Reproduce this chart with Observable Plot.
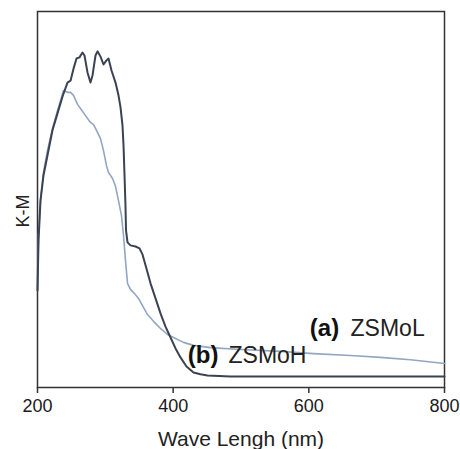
<!DOCTYPE html>
<html>
<head>
<meta charset="utf-8">
<script src="https://cdn.jsdelivr.net/npm/d3@7"></script>
<script src="https://cdn.jsdelivr.net/npm/@observablehq/plot@0.6"></script>
<style>
  html, body { margin: 0; padding: 0; background: #fff; }
  #chart { width: 460px; height: 449px; }
</style>
</head>
<body>
<div id="chart"></div>
<script>
// Wavelength (nm) and K-M values (arbitrary units, 0-100)
const zsmohWave = [200, 201.5, 204.4, 208.8, 214.7, 222.1, 229.5, 236.9, 244.2, 248.7, 253.1, 257.5, 261.9, 266.3, 269.3, 273.7, 278.1, 281.1, 285.5, 288.5, 292.9, 297.3, 301.7, 304.7, 309.1, 315.0, 319.4, 322.4, 325.3, 326.8, 328.3, 329.7, 330.5, 332.7, 337.1, 344.5, 350.4, 354.8, 360.7, 366.6, 374.0, 381.3, 388.7, 396.1, 403.5, 410.8, 419.7, 430.0, 440.3, 450.6, 484.5, 543.5, 617.2, 705.7, 800];
const zsmohKM   = [25.8, 39.1, 49.7, 56.4, 61.7, 68.4, 72.9, 77.4, 81.1, 81.6, 84.8, 87.5, 87.8, 89.1, 88.3, 83.8, 81.1, 83.0, 88.3, 89.4, 88.0, 85.9, 87.0, 87.5, 84.3, 81.1, 77.7, 74.5, 69.7, 64.4, 56.4, 48.4, 41.8, 38.6, 37.8, 37.5, 37.0, 35.4, 31.6, 27.7, 23.7, 19.7, 16.2, 13.3, 10.4, 8.0, 5.6, 4.0, 3.5, 3.2, 2.9, 2.9, 2.9, 2.9, 2.9];

const zsmolWave = [200, 201.5, 204.4, 208.8, 214.7, 222.1, 229.5, 233.9, 238.3, 244.2, 248.7, 253.1, 259.0, 263.4, 270.8, 278.1, 282.6, 287.0, 292.9, 297.3, 301.7, 304.7, 310.6, 315.0, 319.4, 323.8, 326.8, 329.7, 332.7, 337.1, 343.0, 348.9, 354.8, 362.2, 371.0, 381.3, 391.7, 400.5, 415.2, 430.0, 455.1, 499.3, 558.3, 606.9, 661.5, 705.7, 749.9, 800];
const zsmolKM   = [25.8, 40.4, 49.7, 57.2, 63.0, 68.9, 73.7, 76.3, 79.0, 78.5, 78.5, 77.7, 75.3, 74.2, 72.3, 70.5, 69.9, 68.4, 66.2, 63.0, 59.0, 57.2, 55.6, 53.5, 49.7, 45.7, 40.4, 33.8, 27.7, 26.1, 25.0, 23.7, 21.8, 19.4, 17.6, 15.7, 14.1, 13.3, 12.0, 11.2, 10.6, 10.1, 9.6, 9.0, 8.5, 8.0, 7.4, 6.4];

const xTicks = [200, 400, 600, 800];

// Curve labels: tag, name, anchor (wavelength, K-M)
const labelTags  = ["(a)", "(b)"];
const labelNames = ["ZSMoL", "ZSMoH"];
const labelTagX  = [601.5, 421.6];
const labelNameX = [661.5, 481.6];
const labelY     = [13.8, 6.4];

const zsmoh = zsmohWave.map((w, i) => ({wave: w, km: zsmohKM[i]}));
const zsmol = zsmolWave.map((w, i) => ({wave: w, km: zsmolKM[i]}));
const labels = labelTags.map((t, i) => ({tag: t, name: labelNames[i], tx: labelTagX[i], nx: labelNameX[i], y: labelY[i]}));

const font = "Arial, 'Liberation Sans', sans-serif";

const chart = Plot.plot({
  width: 460,
  height: 449,
  marginLeft: 37,
  marginRight: 16,
  marginTop: 11,
  marginBottom: 62,
  style: {fontFamily: font, background: "#fff", color: "#222"},
  x: {domain: [200, 800]},
  y: {domain: [0, 100]},
  marks: [
    Plot.frame({stroke: "#333", strokeWidth: 1.5}),
    Plot.axisX({ticks: xTicks, tickSize: 6, tickPadding: 6, fontSize: 18, label: null, stroke: "#333", strokeWidth: 1.5, fill: "#1a1a1a"}),
    Plot.axisY({ticks: [], label: null}),
    Plot.text(["Wave Lengh (nm)"], {frameAnchor: "bottom", dy: 58, lineAnchor: "bottom", fontSize: 21, fill: "#222"}),
    Plot.text(["K-M"], {frameAnchor: "left", dx: -14, dy: 28, rotate: -90, fontSize: 18, fill: "#222"}),
    Plot.line(zsmol, {x: "wave", y: "km", stroke: "#93a6c2", strokeWidth: 1.6}),
    Plot.line(zsmoh, {x: "wave", y: "km", stroke: "#3b4353", strokeWidth: 2}),
    Plot.text(labels, {x: "tx", y: "y", text: "tag", textAnchor: "start", lineAnchor: "bottom", fontSize: 24, fontWeight: "bold", fill: "#111"}),
    Plot.text(labels, {x: "nx", y: "y", text: "name", textAnchor: "start", lineAnchor: "bottom", fontSize: 23, fill: "#222"})
  ]
});
document.getElementById("chart").appendChild(chart);
</script>
</body>
</html>
